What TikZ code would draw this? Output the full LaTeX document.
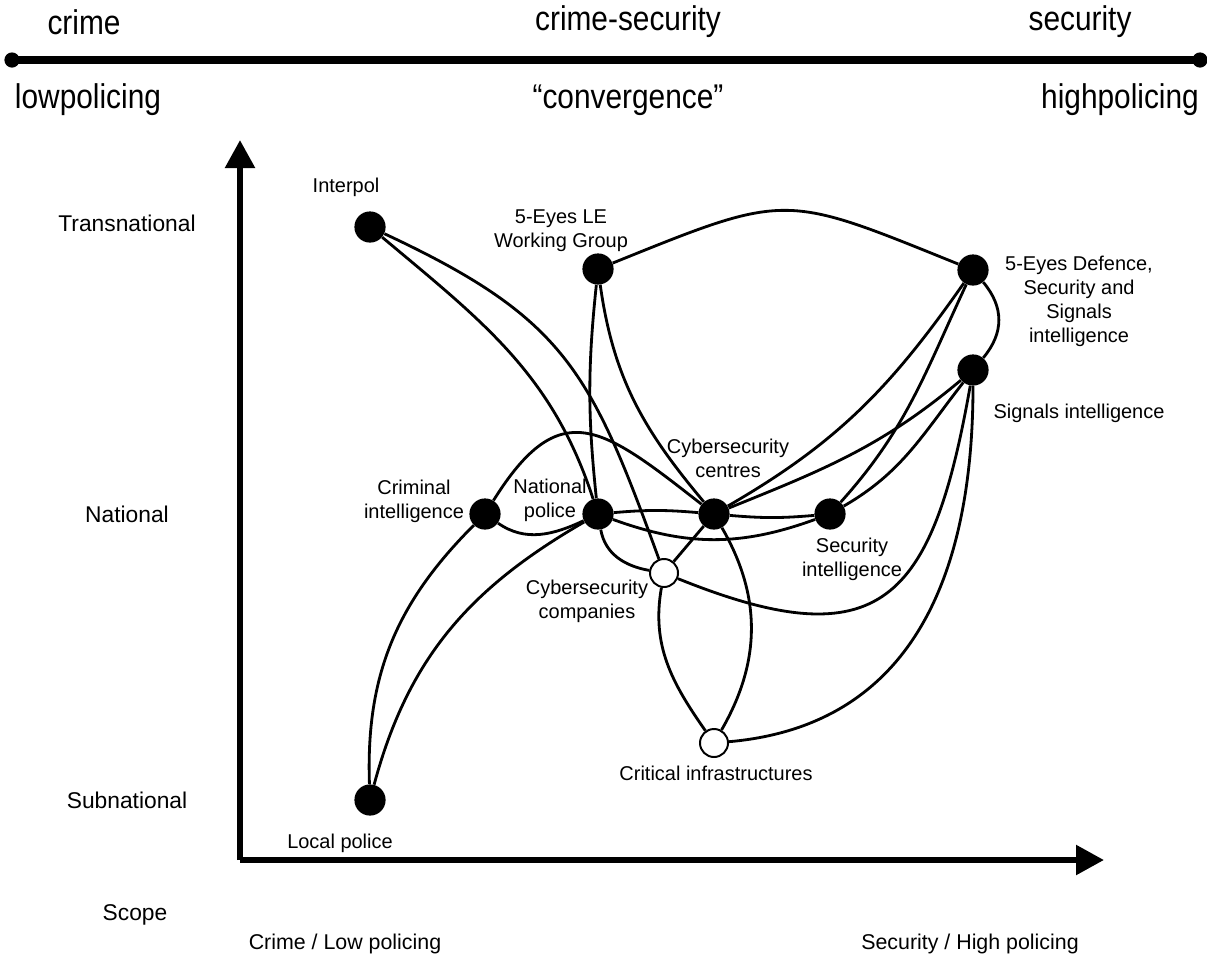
\documentclass[tikz,border=0pt]{standalone}
\usepackage{fontspec}
\setmainfont{Liberation Sans}
\usetikzlibrary{arrows.meta}
\usetikzlibrary{positioning}

\newcommand{\narrowword}[1]{\scalebox{0.87}[1]{#1}}

\tikzset{
  agency/.style={circle, fill=black, inner sep=0pt, minimum size=0.78cm},
  firm/.style={circle, draw=black, fill=white, line width=1.4pt, inner sep=0pt, minimum size=0.7cm},
  tie/.style={line width=2pt},
  axis/.style={line width=4.3pt, -{Triangle[length=0.7cm, width=0.72cm]}},
  barend/.style={circle, fill=black, inner sep=0pt, minimum size=0.38cm},
  actorname/.style={font=\fontsize{14.2}{17.1}\selectfont, align=center, inner sep=0pt},
  scopename/.style={font=\fontsize{16.2}{18}\selectfont, inner sep=0pt},
  policyname/.style={font=\fontsize{15.2}{18}\selectfont, inner sep=0pt},
  poletext/.style={font=\fontsize{24.4}{28}\selectfont, inner sep=0pt}
}

\begin{document}
\begin{tikzpicture}[x=0.025cm, y=0.025cm]
                \useasboundingbox (0,0) rectangle (1207,-955);
                \node[barend] (lowend) at (12,-60) {};
                \node[barend] (highend) at (1200,-60) {};
                \draw[line width=5pt] (lowend.center) -- (highend.center);
                \node[poletext] (crime) at (84,-22) {\narrowword{crime}};
                \node[poletext] (crimesec) at (628,-22) {\narrowword{crime-security}};
                \node[poletext] (security) at (1080,-22) {\narrowword{security}};
                \node[poletext] (lowpol) at (88,-100) {\narrowword{lowpolicing}};
                \node[poletext] (converge) at (628,-100) {\narrowword{“convergence”}};
                \node[poletext] (highpol) at (1120,-100) {\narrowword{highpolicing}};

                \coordinate (origin) at (240,-860);
                \coordinate (scopetip) at (240,-140);
                \coordinate (policetip) at (1104,-860);
                \draw[axis] (origin) -- (scopetip);
                \draw[axis] (origin) -- (policetip);
                \node[scopename] (transnat) at (127,-223) {Transnational};
                \node[scopename] (nat) at (127,-514) {National};
                \node[scopename] (subnat) at (127,-800) {Subnational};
                \node[scopename] (scope) at (135,-915) {Scope};
                \node[policyname] (lowend-x) at (345,-944) {Crime / Low policing};
                \node[policyname] (highend-x) at (970,-944) {Security / High policing};

                \node[agency] (ip) at (370,-227) {};
                \node[agency] (fele) at (598,-269) {};
                \node[agency] (fed) at (973,-270) {};
                \node[agency] (si) at (973,-370) {};
                \node[agency] (ci) at (485,-514) {};
                \node[agency] (np) at (598,-514) {};
                \node[agency] (cc) at (714,-514) {};
                \node[agency] (sec) at (830,-514) {};
                \node[firm] (cco) at (664,-573) {};
                \node[firm] (cri) at (714,-743) {};
                \node[agency] (lp) at (370,-800) {};

                \draw[tie] (ip) to[out=-40, in=108] (np);
                \draw[tie] (ip) to[out=-25, in=110, looseness=1.2] (cco);
                \draw[tie] (fele) to[out=-96, in=96] (np);
                \draw[tie] (fele) to[out=-82, in=130] (cc);
                \draw[tie] (fele) to[out=22, in=158, looseness=1.4] (fed);
                \draw[tie] (fed) to[out=-50, in=50, looseness=1.1] (si);
                \draw[tie] (ci) to[out=58, in=142, looseness=1.55] (cc);
                \draw[tie] (ci) to[out=-35, in=-155] (np);
                \draw[tie] (ci) to[out=-135, in=92] (lp);
                \draw[tie] (np) to[out=-150, in=75] (lp);
                \draw[tie] (np) to[out=5, in=175] (cc);
                \draw[tie] (np) to[out=-20, in=-160] (sec);
                \draw[tie] (np) to[out=-80, in=170] (cco);
                \draw[tie] (cc) to[out=-5, in=-175] (sec);
                \draw[tie] (cc) -- (cco);
                \draw[tie] (cc) to[out=-60, in=60] (cri);
                \draw[tie] (cco) to[out=-100, in=125] (cri);
                \draw[tie] (cco) to[out=-22, in=-100, looseness=1.6] (si);
                \draw[tie] (cri) to[out=5, in=-90, looseness=1.1] (si);
                \draw[tie] (cc) to[out=30, in=-125] (fed);
                \draw[tie] (cc) to[out=22, in=-140] (si);
                \draw[tie] (sec) to[out=48, in=-115] (fed);
                \draw[tie] (sec) to[out=30, in=-128] (si);

                \node[actorname] (ip-name) at (346,-187) {Interpol};
                \node[actorname] (fele-name) at (561,-231) {5-Eyes LE\\Working Group};
                \node[actorname] (fed-name) at (1079,-301) {5-Eyes Defence,\\Security and\\Signals\\intelligence};
                \node[actorname] (si-name) at (1079,-413) {Signals intelligence};
                \node[actorname] (ci-name) at (414,-501) {Criminal\\intelligence};
                \node[actorname] (np-name) at (550,-500) {National\\police};
                \node[actorname] (cc-name) at (728,-458) {Cybersecurity\\centres};
                \node[actorname] (sec-name) at (852,-559) {Security\\intelligence};
                \node[actorname] (cco-name) at (587,-601) {Cybersecurity\\companies};
                \node[actorname] (cri-name) at (716,-773) {Critical infrastructures};
                \node[actorname] (lp-name) at (340,-843) {Local police};
            \end{tikzpicture}
\end{document}
